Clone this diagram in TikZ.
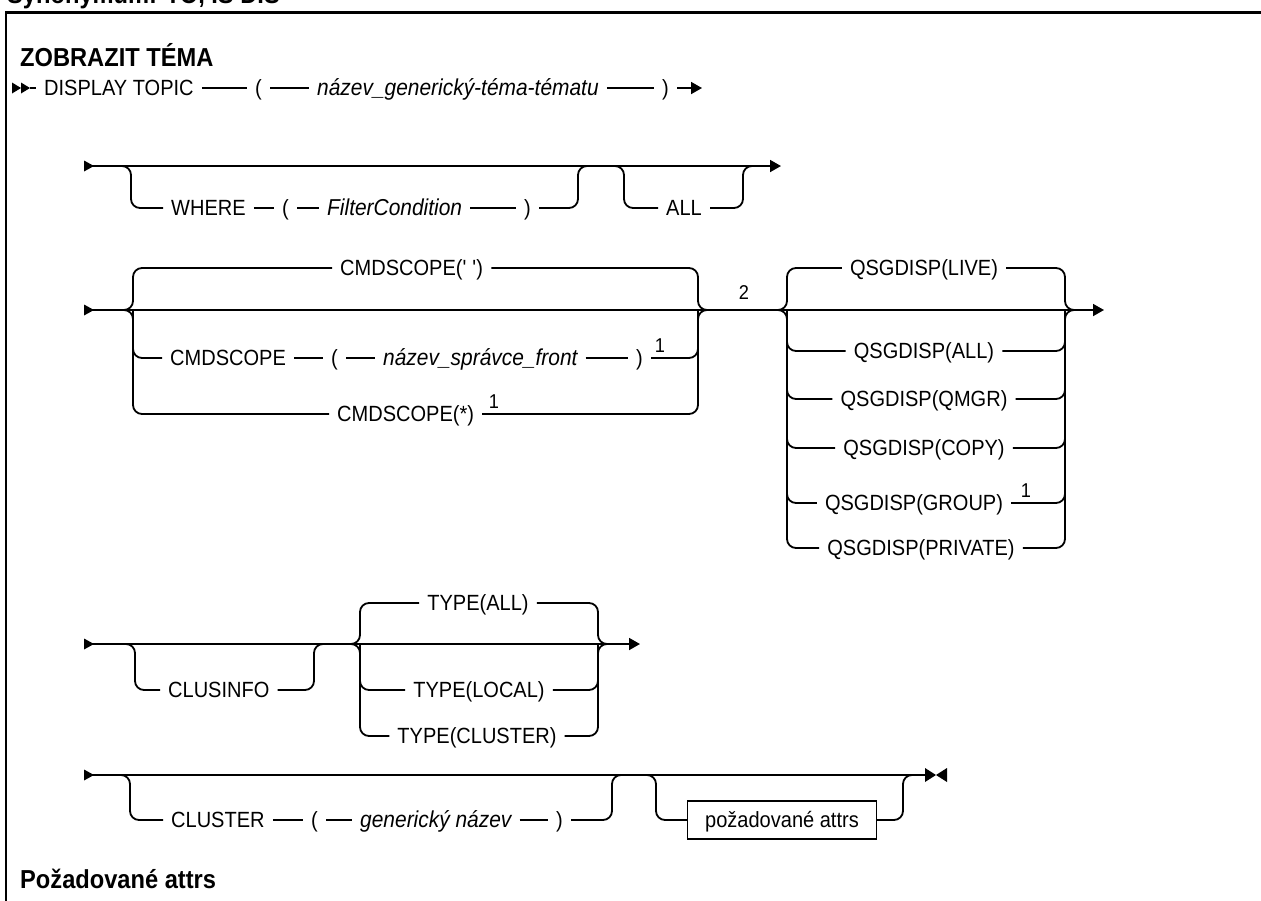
\documentclass[tikz,border=0pt]{standalone}
\usepackage{fontspec}
\setmainfont{Liberation Sans}[FakeStretch=0.91]
\usetikzlibrary{arrows.meta}
\tikzset{
  rail/.style={line width=1.8pt, line join=round},
  br/.style={rail, rounded corners=9pt},
  endarrow/.style={rail, -{Triangle[length=11pt,width=12pt]}},
  kw/.style={inner xsep=8pt, inner ysep=0pt, text height=15.7pt, text depth=0pt,
             anchor=west, font=\fontsize{22}{26}\selectfont},
  kwc/.style={kw, anchor=center},
  var/.style={kw, font=\fontsize{23}{26}\selectfont\itshape},
  supnum/.style={inner sep=0pt, anchor=base, font=\fontsize{20}{22}\selectfont},
  head/.style={inner sep=0pt, anchor=base west, font=\fontsize{26}{30}\selectfont\bfseries},
  fragbox/.style={draw, line width=1.3pt, inner xsep=17.5pt, inner ysep=0pt,
             minimum height=38pt, text height=15.7pt, text depth=0pt,
             font=\fontsize{22}{26}\selectfont},
  rowstart/.pic={\fill (0,-5.5) -- (10,0) -- (0,5.5) -- cycle;},
  rowstop/.pic={\fill (0,-7) -- (11,0) -- (0,7) -- cycle;
                \fill (22,-7) -- (11,0) -- (22,7) -- cycle;}
}
\begin{document}
\begin{tikzpicture}[x=1pt,y=-1pt]
\useasboundingbox (0,0) rectangle (1261,900);

% frame and headings
\draw[line width=2.5pt] (6,905) -- (6,12.5) -- (1266,12.5);
\node[head] (syn) at (7,3) {Synonymum: TO, IS DIS};
\node[head] (title) at (20,66) {ZOBRAZIT TÉMA};
\node[head] (attrhead) at (20,888) {Požadované attrs};

% ---- row 1: DISPLAY TOPIC ( name )
\fill (12,82.5) -- (21,88) -- (12,93.5) -- cycle;
\fill (21,82.5) -- (30,88) -- (21,93.5) -- cycle;
\coordinate (s1) at (30,88);
\coordinate (e1) at (702,88);
\node[kw] (dt) at (36,88) {DISPLAY TOPIC};
\node[kw] (lp1) at (247,88) {(};
\node[var] (v1) at (309,88) {název\_generický-téma-tématu\hspace{12pt}};
\node[kw] (rp1) at (654,88) {)};
\draw[rail] (s1) -- (dt.west);
\draw[rail] (dt.east) -- (lp1.west);
\draw[rail] (lp1.east) -- (v1.west);
\draw[rail] (v1.east) -- (rp1.west);
\draw[endarrow] (rp1.east) -- (e1);

% ---- row 2: WHERE / ALL
\pic at (84,166) {rowstart};
\coordinate (s2) at (90,166);
\coordinate (e2) at (781,166);
\draw[endarrow] (s2) -- (e2);
\coordinate (w2in) at (119,166);
\coordinate (w2a) at (131,166);
\coordinate (w2b) at (578,166);
\coordinate (w2out) at (590,166);
\node[kw] (wh) at (163,208) {WHERE};
\node[kw] (lp2) at (274,208) {(};
\node[var] (fc) at (319,208) {FilterCondition\hspace{12pt}};
\node[kw] (rp2) at (516,208) {)};
\draw[br] (w2in) -- (w2a) |- (wh.west);
\draw[rail] (wh.east) -- (lp2.west);
\draw[rail] (lp2.east) -- (fc.west);
\draw[rail] (fc.east) -- (rp2.west);
\draw[br] (rp2.east) -| (w2b) -- (w2out);
\coordinate (a2in) at (612,166);
\coordinate (a2a) at (624,166);
\coordinate (a2b) at (743,166);
\coordinate (a2out) at (755,166);
\node[kw] (al) at (658,208) {ALL};
\draw[br] (a2in) -- (a2a) |- (al.west);
\draw[br] (al.east) -| (a2b) -- (a2out);

% ---- row 3: CMDSCOPE / QSGDISP
\pic at (84,310) {rowstart};
\coordinate (s3) at (90,310);
\coordinate (e3) at (1104,310);
\draw[endarrow] (s3) -- (e3);
% CMDSCOPE group
\coordinate (c3in) at (121,310);
\coordinate (c3l) at (133,310);
\coordinate (c3r) at (698,310);
\coordinate (c3out) at (710,310);
\node[kw] (cs1) at (332,268) {CMDSCOPE(\textquotesingle\ \textquotesingle)};
\node[kw] (cmd) at (162,358) {CMDSCOPE};
\node[kw] (lp3) at (323,358) {(};
\node[var] (v3) at (375,358) {název\_správce\_front\hspace{12pt}};
\node[kw] (rp3) at (628,358) {)};
\node[supnum] (f3a) at (660,352) {1};
\node[kw] (cst) at (329,414) {CMDSCOPE(*)};
\node[supnum] (f3b) at (494,408) {1};
\draw[br] (c3in) -- (c3l) |- (cs1.west);
\draw[br] (c3in) -- (c3l) |- (cst.west);
\draw[br] (c3l) |- (cmd.west);
\draw[rail] (cmd.east) -- (lp3.west);
\draw[rail] (lp3.east) -- (v3.west);
\draw[rail] (v3.east) -- (rp3.west);
\draw[br] (cs1.east) -| (c3r) -- (c3out);
\draw[br] (cst.east) -| (c3r) -- (c3out);
\draw[br] (rp3.east) -| (c3r);
\node[supnum] (n2) at (744,299) {2};
% QSGDISP group
\coordinate (q3in) at (775,310);
\coordinate (q3l) at (787,310);
\coordinate (q3r) at (1065,310);
\coordinate (q3out) at (1077,310);
\node[kwc] (q1) at (924,268) {QSGDISP(LIVE)};
\node[kwc] (q2) at (924,351) {QSGDISP(ALL)};
\node[kwc] (q3) at (924,399) {QSGDISP(QMGR)};
\node[kwc] (q4) at (924,448) {QSGDISP(COPY)};
\node[kwc] (q5) at (914,503) {QSGDISP(GROUP)};
\node[supnum] (f3c) at (1026,497) {1};
\node[kwc] (q6) at (921,548) {QSGDISP(PRIVATE)};
\draw[br] (q3in) -- (q3l) |- (q1.west);
\draw[br] (q3in) -- (q3l) |- (q6.west);
\draw[br] (q3l) |- (q2.west);
\draw[br] (q3l) |- (q3.west);
\draw[br] (q3l) |- (q4.west);
\draw[br] (q3l) |- (q5.west);
\draw[br] (q1.east) -| (q3r) -- (q3out);
\draw[br] (q6.east) -| (q3r) -- (q3out);
\draw[br] (q2.east) -| (q3r);
\draw[br] (q3.east) -| (q3r);
\draw[br] (q4.east) -| (q3r);
\draw[br] (q5.east) -| (q3r);

% ---- row 4: CLUSINFO / TYPE
\pic at (84,644) {rowstart};
\coordinate (s4) at (90,644);
\coordinate (e4) at (640,644);
\draw[endarrow] (s4) -- (e4);
\coordinate (k4in) at (123,644);
\coordinate (k4l) at (135,644);
\coordinate (k4r) at (314,644);
\coordinate (k4out) at (326,644);
\node[kw] (ci) at (160,690) {CLUSINFO};
\draw[br] (k4in) -- (k4l) |- (ci.west);
\draw[br] (ci.east) -| (k4r) -- (k4out);
\coordinate (t4in) at (348,644);
\coordinate (t4l) at (360,644);
\coordinate (t4r) at (598,644);
\coordinate (t4out) at (610,644);
\node[kwc] (t1) at (478,603) {TYPE(ALL)};
\node[kwc] (t2) at (479,690) {TYPE(LOCAL)};
\node[kwc] (t3) at (477,736) {TYPE(CLUSTER)};
\draw[br] (t4in) -- (t4l) |- (t1.west);
\draw[br] (t4in) -- (t4l) |- (t3.west);
\draw[br] (t4l) |- (t2.west);
\draw[br] (t1.east) -| (t4r) -- (t4out);
\draw[br] (t3.east) -| (t4r) -- (t4out);
\draw[br] (t2.east) -| (t4r);

% ---- row 5: CLUSTER / requested attributes
\pic at (84,775) {rowstart};
\coordinate (s5) at (90,775);
\coordinate (e5) at (925,775);
\draw[rail] (s5) -- (e5);
\pic at (925,775) {rowstop};
\coordinate (g5in) at (118,775);
\coordinate (g5l) at (130,775);
\coordinate (g5r) at (612,775);
\coordinate (g5out) at (624,775);
\node[kw] (cl) at (163,820) {CLUSTER};
\node[kw] (lp5) at (303,820) {(};
\node[var] (v5) at (352,820) {generický název\hspace{12pt}};
\node[kw] (rp5) at (548,820) {)};
\draw[br] (g5in) -- (g5l) |- (cl.west);
\draw[rail] (cl.east) -- (lp5.west);
\draw[rail] (lp5.east) -- (v5.west);
\draw[rail] (v5.east) -- (rp5.west);
\draw[br] (rp5.east) -| (g5r) -- (g5out);
\coordinate (b5in) at (644,775);
\coordinate (b5l) at (656,775);
\coordinate (b5r) at (903,775);
\coordinate (b5out) at (915,775);
\node[fragbox] (attrs) at (782,820) {požadované attrs};
\draw[br] (b5in) -- (b5l) |- (attrs.west);
\draw[br] (attrs.east) -| (b5r) -- (b5out);
\end{tikzpicture}
\end{document}
